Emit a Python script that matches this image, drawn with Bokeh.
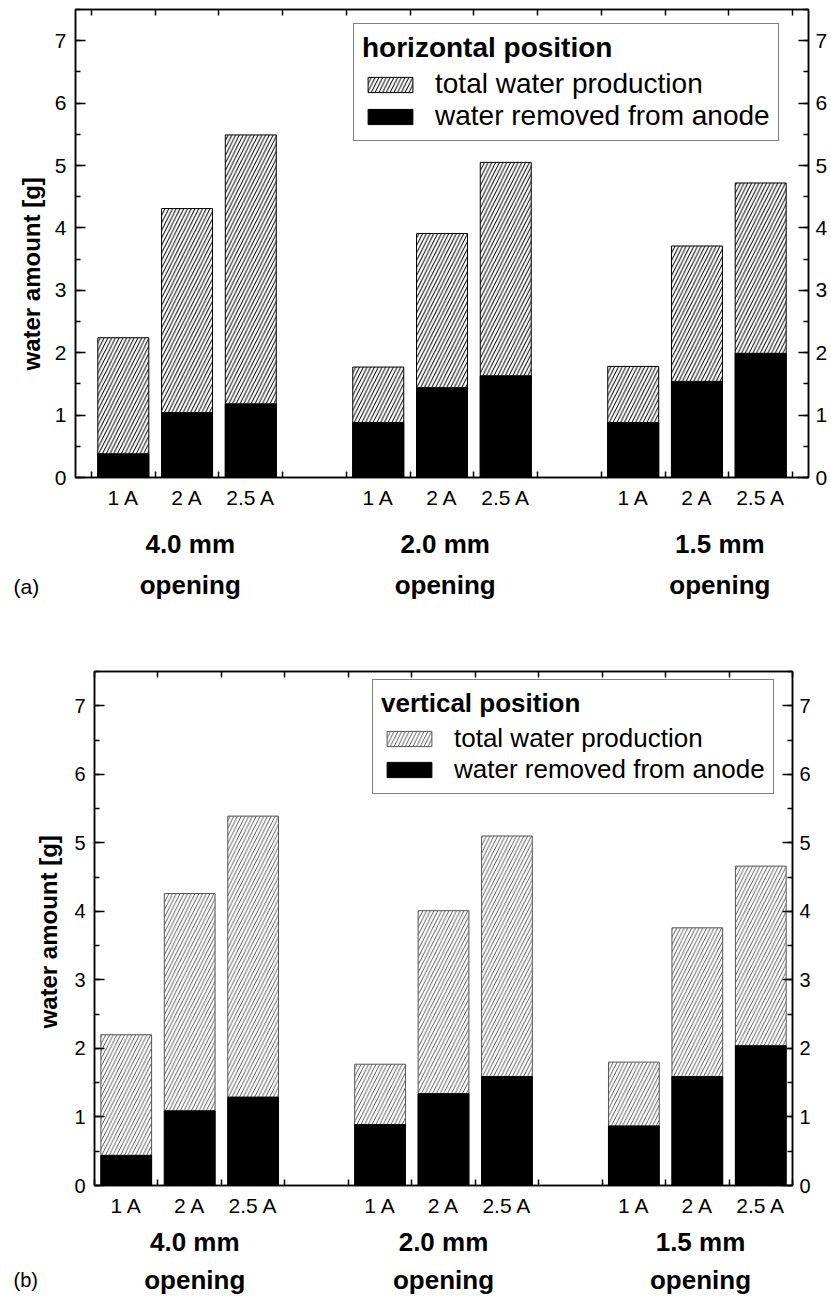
from bokeh.plotting import figure
from bokeh.models import (LinearAxis, FixedTicker, SingleIntervalTicker, Range1d,
                          Legend, LegendItem, Title, ColumnDataSource, CustomJSTickFormatter)
from bokeh.embed import file_html
from bokeh.resources import INLINE

# ---------------- data ----------------
currents = ["1 A", "2 A", "2.5 A"]
openings = ["4.0 mm", "2.0 mm", "1.5 mm"]
bar_x = [1.5, 2.5, 3.5, 5.5, 6.5, 7.5, 9.5, 10.5, 11.5]
group_ticks = list(range(1, 13))

horiz_total = [2.24, 4.31, 5.49, 1.77, 3.91, 5.05, 1.78, 3.71, 4.72]
horiz_removed = [0.38, 1.04, 1.18, 0.88, 1.44, 1.63, 0.88, 1.54, 1.99]
vert_total = [2.20, 4.26, 5.39, 1.77, 4.01, 5.10, 1.80, 3.76, 4.66]
vert_removed = [0.44, 1.09, 1.29, 0.89, 1.34, 1.59, 0.87, 1.59, 2.04]

y_label = "water amount [g]"
FONT = "Liberation Sans"


def label_axis(ticks, labels, fs, bold, standoff):
    ax = LinearAxis(ticker=FixedTicker(ticks=ticks),
                    major_label_overrides={t: s for t, s in zip(ticks, labels)})
    ax.axis_line_color = None
    ax.major_tick_line_color = None
    ax.minor_tick_line_color = None
    ax.major_tick_out = 0
    ax.major_tick_in = 0
    ax.major_label_text_font = FONT
    ax.major_label_text_font_size = fs
    ax.major_label_text_color = "black"
    if bold:
        ax.major_label_text_font_style = "bold"
    ax.major_label_standoff = standoff
    return ax


def panel(total, removed, title, tag, xr, fw, fh, mb, tick_fs, leg_fs,
          hatch_color, hatch_w, bar_line, leg_loc, stand, tag_fs, tag_pos,
          ylab_pos, label_shift):
    p = figure(x_range=Range1d(*xr), y_range=Range1d(0, 7.5),
               frame_width=fw, frame_height=fh,
               min_border_left=mb[0], min_border_right=mb[1],
               min_border_top=mb[2], min_border_bottom=mb[3],
               x_axis_location=None, y_axis_location=None,
               toolbar_location=None, output_backend="svg")
    p.xgrid.visible = False
    p.ygrid.visible = False
    p.outline_line_color = "black"
    p.outline_line_width = 1.5

    src = ColumnDataSource(dict(x=bar_x, total=total, removed=removed))
    r_tot = p.vbar(x="x", top="total", width=0.8, source=src,
                   fill_color="white", line_color=bar_line, line_width=1,
                   hatch_pattern="/", hatch_color=hatch_color,
                   hatch_scale=7.5, hatch_weight=hatch_w)
    r_rem = p.vbar(x="x", top="removed", width=0.8, source=src,
                   fill_color="black", line_color="black", line_width=1)

    # y axes
    for side in ("left", "right"):
        ax = LinearAxis(ticker=SingleIntervalTicker(interval=1, num_minor_ticks=2))
        ax.major_tick_in = 10
        ax.major_tick_out = 0
        ax.minor_tick_in = 5
        ax.minor_tick_out = 0
        ax.major_tick_line_width = 1.5
        ax.minor_tick_line_width = 1.5
        ax.axis_line_width = 1.5
        ax.major_label_text_font = FONT
        ax.major_label_text_font_size = tick_fs
        ax.major_label_text_color = "black"
        ax.major_label_standoff = 9 if side == "left" else 7
        p.add_layout(ax, side)

    # y label (as a side title so it can sit off-centre like the original)
    yt = Title(text=y_label, align="left", offset=ylab_pos[0], standoff=ylab_pos[1],
               text_font=FONT, text_font_size="24px", text_font_style="bold",
               text_color="black")
    p.add_layout(yt, "left")

    # x tick axes (no labels)
    blank = CustomJSTickFormatter(code="return ''")
    for side in ("above", "below"):
        ax = LinearAxis(ticker=FixedTicker(ticks=group_ticks), formatter=blank)
        ax.major_tick_in = 6
        ax.major_tick_out = 0
        ax.minor_tick_line_color = None
        ax.major_tick_line_width = 1.5
        ax.axis_line_width = 1.5
        ax.major_label_text_font_size = "0px"
        ax.major_label_standoff = 0
        p.add_layout(ax, side)

    # current labels, opening labels
    centers = [sum(bar_x[3 * g:3 * g + 3]) / 3 + label_shift[g] for g in range(3)]
    p.add_layout(label_axis(bar_x, currents * 3, "21px", False, stand[0]), "below")
    p.add_layout(label_axis(centers, openings, "26px", True, stand[1]), "below")

    # panel tag, (a) / (b), shares the row of the "opening" labels
    t = Title(text=tag, align="left", offset=tag_pos[0], standoff=tag_pos[1],
              text_font=FONT, text_font_size=tag_fs, text_font_style="normal",
              text_color="black")
    p.add_layout(t, "below")
    p.add_layout(label_axis(centers, ["opening"] * 3, "26px", True, stand[2]), "below")

    leg = Legend(items=[LegendItem(label="total water production", renderers=[r_tot]),
                        LegendItem(label="water removed from anode", renderers=[r_rem])],
                 location=leg_loc)
    leg.title = title
    leg.title_text_font = FONT
    leg.title_text_font_style = "bold"
    leg.title_text_font_size = leg_fs
    leg.title_text_color = "black"
    leg.title_standoff = 4
    leg.label_text_font = FONT
    leg.label_text_font_size = leg_fs
    leg.label_text_color = "black"
    leg.glyph_width = 56
    leg.glyph_height = 19
    leg.label_standoff = 17
    leg.padding = 8
    leg.spacing = 0
    leg.border_line_color = "black"
    leg.border_line_width = 1.2
    p.add_layout(leg)
    return p


p1 = panel(horiz_total, horiz_removed, "horizontal position", "(a)",
           (0.75, 12.25), 733, 468, (75, 23, 9, 163),
           "21px", "28px", "black", 1.0, "black", (278, 336), (8, 17, -39),
           "21px", (-62, 22), (107, 13), (0.05, 0.05, 0.36))
p2 = panel(vert_total, vert_removed, "vertical position", "(b)",
           (1, 12), 698, 514, (94, 39, 31, 111),
           "20px", "26px", "#333333", 0.8, "#555555", (278, 391), (8, 7, -33),
           "20px", (-81, 14), (157, 20), (0.08, 0.0, 0.05))

open("out.html", "w").write(file_html([p1, p2], INLINE))
